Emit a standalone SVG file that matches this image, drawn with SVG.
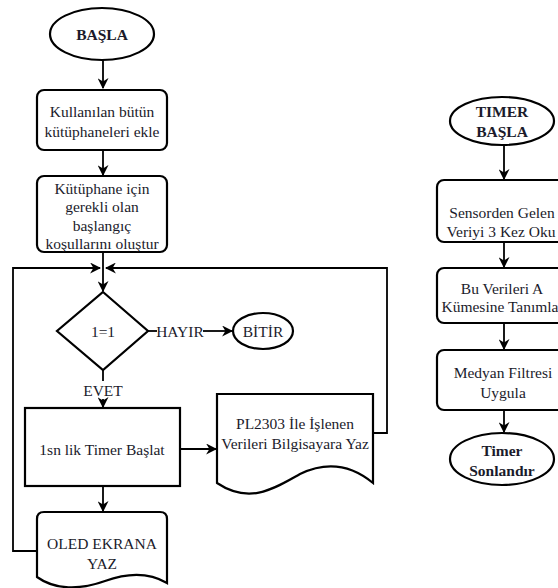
<svg xmlns="http://www.w3.org/2000/svg" width="558" height="588" viewBox="0 0 558 588">
<defs>
<style>
.s{fill:#fff;stroke:#000;stroke-width:2.2}
.c{fill:none;stroke:#000;stroke-width:1.8}
text{font-family:"Liberation Serif","Times New Roman",serif;font-size:15.5px;fill:#1b1b2b;text-anchor:middle;dominant-baseline:central}
.b{font-weight:bold}
</style>
<marker id="a" viewBox="0 0 10 10" refX="9" refY="5" markerWidth="11" markerHeight="11" markerUnits="userSpaceOnUse" orient="auto">
<path d="M0,0 L10,5 L0,10 L3,5 Z" fill="#000"/>
</marker>
</defs>
<rect width="558" height="588" fill="#fff"/>
<g id="connectors">
<path class="c" d="M103,60 V88" marker-end="url(#a)"/>
<path class="c" d="M103,150 V175" marker-end="url(#a)"/>
<path class="c" d="M103,252 V291" marker-end="url(#a)"/>
<path class="c" d="M148,331 H157"/>
<path class="c" d="M203,331 H232" marker-end="url(#a)"/>
<path class="c" d="M103,370 V381"/>
<path class="c" d="M103,399 V407" marker-end="url(#a)"/>
<path class="c" d="M180,449 H216" marker-end="url(#a)"/>
<path class="c" d="M103,486 V511" marker-end="url(#a)"/>
<path class="c" d="M37,551 H13 V268 H100" marker-end="url(#a)"/>
<path class="c" d="M373,433 H387 V268 H106" marker-end="url(#a)"/>
<path class="c" d="M504,145 V179" marker-end="url(#a)"/>
<path class="c" d="M504,242 V267" marker-end="url(#a)"/>
<path class="c" d="M504,323 V349" marker-end="url(#a)"/>
<path class="c" d="M504,410 V432" marker-end="url(#a)"/>
</g>
<g id="basla">
<ellipse class="s" cx="102" cy="34" rx="52" ry="26"/>
<text class="b" x="102" y="34">BAŞLA</text>
</g>
<g id="kutuphane-ekle">
<rect class="s" x="37" y="90" width="130" height="60" rx="7"/>
<text x="102" y="111">Kullanılan bütün</text>
<text x="102" y="131">kütüphaneleri ekle</text>
</g>
<g id="baslangic">
<rect class="s" x="37" y="176" width="130" height="76" rx="7"/>
<text x="102" y="188">Kütüphane için</text>
<text x="102" y="206">gerekli olan</text>
<text x="102" y="225">başlangıç</text>
<text x="102" y="243">koşullarını oluştur</text>
</g>
<g id="kosul">
<path class="s" d="M103,292 L148,331 L103,370 L57,331 Z"/>
<text x="103" y="331">1=1</text>
</g>
<text x="180" y="331">HAYIR</text>
<text x="103" y="390">EVET</text>
<g id="bitir">
<ellipse class="s" cx="263" cy="331" rx="30" ry="18"/>
<text x="263" y="331">BİTİR</text>
</g>
<g id="timer-baslat">
<rect class="s" x="25" y="408" width="155" height="78"/>
<text x="102" y="449">1sn lik Timer Başlat</text>
</g>
<g id="pl2303">
<path class="s" d="M217,394 H373 V483 C350,464 325,462 300,474 C275,488 250,505 217,483 Z"/>
<text x="295" y="423">PL2303 İle İşlenen</text>
<text x="295" y="443">Verileri Bilgisayara Yaz</text>
</g>
<g id="oled">
<path class="s" d="M44,512 H160 Q167,512 167,519 V583 C150,573 130,572 105,581 C80,590 55,590 37,577 V519 Q37,512 44,512 Z"/>
<text x="102" y="543">OLED EKRANA</text>
<text x="102" y="563">YAZ</text>
</g>
<g id="timer-basla">
<ellipse class="s" cx="502" cy="121" rx="52" ry="24"/>
<text class="b" x="502" y="111">TIMER</text>
<text class="b" x="502" y="131">BAŞLA</text>
</g>
<g id="sensor-oku">
<rect class="s" x="437" y="180" width="132" height="62" rx="7"/>
<text x="502" y="212">Sensorden Gelen</text>
<text x="501" y="231">Veriyi 3 Kez Oku</text>
</g>
<g id="kume-tanimla">
<rect class="s" x="437" y="268" width="132" height="55" rx="7"/>
<text x="502" y="288">Bu Verileri A</text>
<text x="500" y="306">Kümesine Tanımla</text>
</g>
<g id="medyan">
<rect class="s" x="437" y="350" width="132" height="60" rx="7"/>
<text x="503" y="372">Medyan Filtresi</text>
<text x="503" y="392">Uygula</text>
</g>
<g id="timer-sonlandir">
<ellipse class="s" cx="502" cy="459" rx="52" ry="26"/>
<text class="b" x="502" y="450">Timer</text>
<text class="b" x="502" y="470">Sonlandır</text>
</g>
</svg>
